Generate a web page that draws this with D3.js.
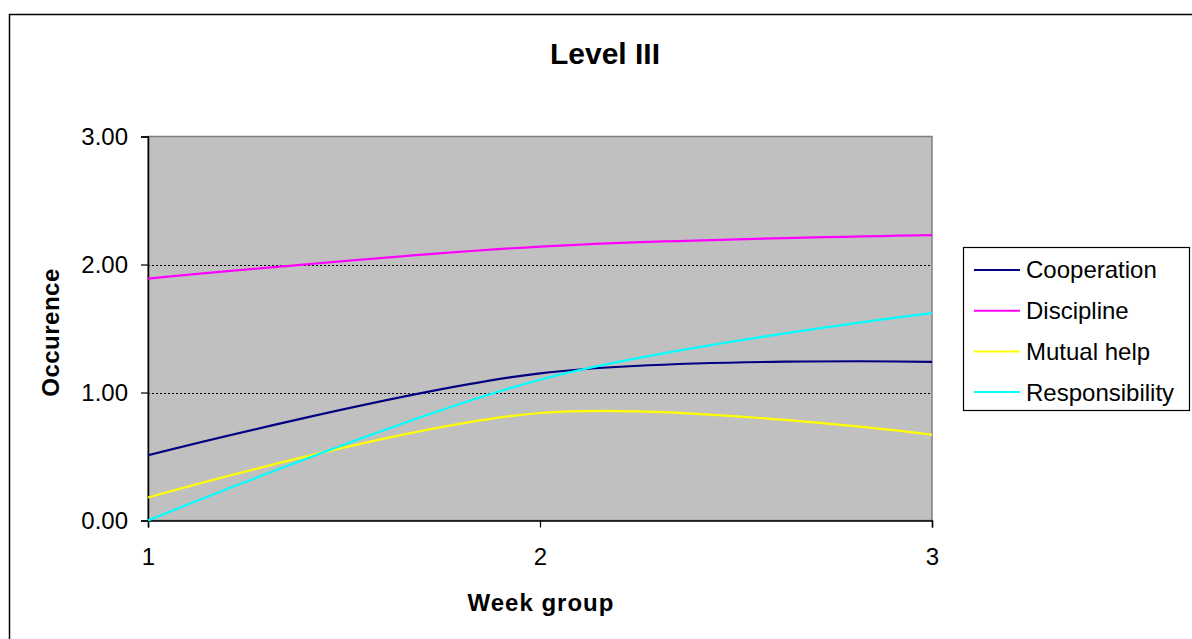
<!DOCTYPE html>
<html>
<head>
<meta charset="utf-8">
<script src="https://cdn.jsdelivr.net/npm/d3@7"></script>
<style>
  html, body { margin: 0; padding: 0; background: #fff; }
  svg { display: block; font-family: "Liberation Sans", Arial, sans-serif; }
</style>
</head>
<body>
<svg id="chart" width="1192" height="639"></svg>
<script>
// Week groups along the x axis
const weeks = [1, 2, 3];
// Average occurrence per week group for each behaviour
const cooperation = [0.51, 1.15, 1.24];
const discipline = [1.89, 2.14, 2.23];
const mutualHelp = [0.18, 0.84, 0.67];
const responsibility = [0.00, 1.10, 1.62];
const seriesNames = ["Cooperation", "Discipline", "Mutual help", "Responsibility"];
const seriesColors = ["#000080", "#ff00ff", "#ffff00", "#00ffff"];
const yTicks = [0, 1, 2, 3];
const gridValues = [1, 2];

const series = [cooperation, discipline, mutualHelp, responsibility];
const FONT = "'Liberation Sans', Arial, sans-serif";

const svg = d3.select("#chart");

// Outer chart frame
svg.append("rect")
  .attr("x", 9.5).attr("y", 14.5)
  .attr("width", 1300).attr("height", 800)
  .attr("fill", "#fff").attr("stroke", "#000").attr("stroke-width", 1.5);

const plot = { left: 148, right: 932, top: 136.5, bottom: 520.5 };

const x = d3.scaleLinear().domain([1, 3]).range([plot.left, plot.right]);
const y = d3.scaleLinear().domain([0, 3]).range([plot.bottom, plot.top]);

// Plot area background
svg.append("rect")
  .attr("x", plot.left).attr("y", plot.top)
  .attr("width", plot.right - plot.left).attr("height", plot.bottom - plot.top)
  .attr("fill", "#c0c0c0").attr("stroke", "#808080").attr("stroke-width", 1.5);

// Dotted gridlines
svg.append("g").selectAll("line").data(gridValues).join("line")
  .attr("x1", plot.left).attr("x2", plot.right)
  .attr("y1", d => Math.round(y(d)) + 0.5).attr("y2", d => Math.round(y(d)) + 0.5)
  .attr("stroke", "#000").attr("stroke-width", 1).attr("stroke-dasharray", "2,2");

// Y axis
const yAxis = d3.axisLeft(y).tickValues(yTicks).tickFormat(d3.format(".2f"))
  .tickSize(7).tickPadding(13);
const gy = svg.append("g").attr("transform", `translate(${plot.left},0)`).call(yAxis);
gy.attr("font-size", 24).attr("font-family", FONT);
gy.select(".domain").attr("stroke", "#000").attr("stroke-width", 1.5);
gy.selectAll(".tick line").attr("stroke", "#000").attr("stroke-width", 1.2);
gy.selectAll(".tick text").attr("fill", "#000");

// X axis
const xAxis = d3.axisBottom(x).tickValues(weeks).tickFormat(d3.format("d"))
  .tickSize(7).tickPadding(20);
const gx = svg.append("g").attr("transform", `translate(0,${plot.bottom})`).call(xAxis);
gx.attr("font-size", 24).attr("font-family", FONT);
gx.select(".domain").attr("stroke", "#000").attr("stroke-width", 1.5);
gx.selectAll(".tick line").attr("stroke", "#000").attr("stroke-width", 1.2);
gx.selectAll(".tick text").attr("fill", "#000");

// Smoothed series lines
const line = d3.line()
  .x((d, i) => x(weeks[i]))
  .y(d => y(d))
  .curve(d3.curveCatmullRom.alpha(0));

svg.append("g").selectAll("path").data(series).join("path")
  .attr("d", d => line(d))
  .attr("fill", "none")
  .attr("stroke", (d, i) => seriesColors[i])
  .attr("stroke-width", 2.2);

// Titles
svg.append("text")
  .attr("x", 605).attr("y", 64)
  .attr("text-anchor", "middle")
  .attr("font-size", 30).attr("font-weight", "bold")
  .text("Level III");

svg.append("text")
  .attr("x", (plot.left + plot.right) / 2 + 1).attr("y", 611)
  .attr("text-anchor", "middle")
  .attr("font-size", 24).attr("font-weight", "bold")
  .attr("letter-spacing", 1)
  .text("Week group");

svg.append("text")
  .attr("transform", `translate(59,${(plot.top + plot.bottom) / 2 + 4}) rotate(-90)`)
  .attr("text-anchor", "middle")
  .attr("font-size", 24).attr("font-weight", "bold")
  .attr("letter-spacing", 0.5)
  .text("Occurence");

// Legend
const legend = svg.append("g");
legend.append("rect")
  .attr("x", 963.5).attr("y", 247.5)
  .attr("width", 226).attr("height", 163)
  .attr("fill", "#fff").attr("stroke", "#000").attr("stroke-width", 1.2);

const rows = legend.selectAll("g.row").data(seriesNames).join("g")
  .attr("class", "row")
  .attr("transform", (d, i) => `translate(0,${270 + i * 40.7})`);
rows.append("line")
  .attr("x1", 974).attr("x2", 1020).attr("y1", 0).attr("y2", 0)
  .attr("stroke", (d, i) => seriesColors[i]).attr("stroke-width", 2);
rows.append("text")
  .attr("x", 1026).attr("y", 0).attr("dy", "0.35em")
  .attr("font-size", 24)
  .text(d => d);
</script>
</body>
</html>
